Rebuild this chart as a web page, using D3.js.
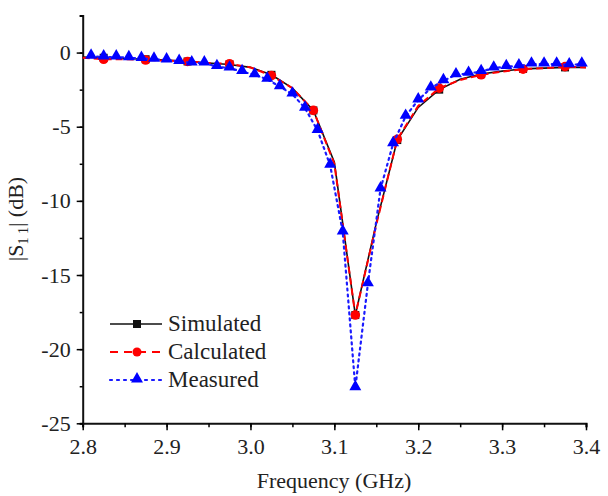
<!DOCTYPE html>
<html>
<head>
<meta charset="utf-8">
<script src="https://cdn.jsdelivr.net/npm/d3@7"></script>
<style>
  body { margin: 0; background: #fff; }
</style>
</head>
<body>
<svg id="chart" width="608" height="496"></svg>
<script>
// ---------- data ----------
var simFreq = [2.8, 2.825, 2.85, 2.875, 2.9, 2.925, 2.95, 2.975, 3.0, 3.025, 3.05, 3.075, 3.1,
               3.125, 3.15, 3.175, 3.2, 3.225, 3.25, 3.275, 3.3, 3.325, 3.35, 3.375, 3.4]
var simS11 = [-0.3, -0.35, -0.4, -0.45, -0.5, -0.6, -0.7, -0.8, -1.0, -1.5, -2.4, -3.9, -7.4,
              -17.7, -11.5, -5.9, -3.7, -2.5, -1.8, -1.45, -1.25, -1.1, -1.05, -1.0, -1.0]

// calculated curve is drawn through every 0.025 GHz, markers every 0.05 GHz
var calcFreq = [2.8, 2.825, 2.85, 2.875, 2.9, 2.925, 2.95, 2.975, 3.0, 3.025, 3.05, 3.075, 3.1,
                3.125, 3.15, 3.175, 3.2, 3.225, 3.25, 3.275, 3.3, 3.325, 3.35, 3.375, 3.4]
var calcS11 = [-0.35, -0.45, -0.45, -0.5, -0.55, -0.6, -0.7, -0.75, -1.0, -1.55, -2.4, -3.9, -7.5,
               -17.7, -11.6, -5.85, -3.6, -2.4, -1.85, -1.5, -1.28, -1.12, -1.05, -0.95, -1.0]
var calcMarkFreq = [2.825, 2.875, 2.925, 2.975, 3.025, 3.075, 3.125, 3.175, 3.225, 3.275, 3.325, 3.375]

var measFreq = [2.81, 2.825, 2.84, 2.855, 2.87, 2.885, 2.9, 2.915, 2.93, 2.945,
                2.96, 2.975, 2.99, 3.005, 3.02, 3.035, 3.05, 3.065, 3.08, 3.095,
                3.11, 3.125, 3.14, 3.155, 3.17, 3.185, 3.2, 3.215, 3.23, 3.245,
                3.26, 3.275, 3.29, 3.305, 3.32, 3.335, 3.35, 3.365, 3.38, 3.395]
var measS11 = [-0.25, -0.3, -0.3, -0.35, -0.4, -0.45, -0.5, -0.6, -0.7, -0.7,
               -0.95, -1.05, -1.28, -1.5, -1.8, -2.3, -2.8, -3.75, -5.25, -7.6,
               -12.1, -22.6, -15.6, -9.2, -6.15, -4.3, -3.2, -2.4, -1.9, -1.5,
               -1.4, -1.28, -1.05, -0.95, -0.9, -0.78, -0.78, -0.78, -0.83, -0.78]

var xTicks = [2.8, 2.9, 3.0, 3.1, 3.2, 3.3, 3.4]
var yTicks = [0, -5, -10, -15, -20, -25]
var legendNames = ["Simulated", "Calculated", "Measured"]

// ---------- setup ----------
var svg = d3.select("#chart")
var x = d3.scaleLinear().domain([2.8, 3.4]).range([82.7, 586])
var y = d3.scaleLinear().domain([-25, 2.5]).range([423.3, 15.5])
var FONT = "'Liberation Serif'"

function pts(fs, vs) {
    return fs.map(function(f, i) { return [f, vs[i]] })
}
function near(a, b) { return Math.abs(a - b) < 1e-6 }
function serif(sel, size) {
    return sel.attr("font-family", "Liberation Serif").style("font-family", FONT)
        .style("font-size", size + "px").attr("fill", "#222")
}
var line = d3.line().x(d => x(d[0])).y(d => y(d[1]))

// ---------- axes ----------
var xAxis = svg.append("g").attr("transform", "translate(0," + y(-25) + ")")
xAxis.call(d3.axisBottom(x).tickValues(d3.range(2.8, 3.401, 0.05)).tickSize(4).tickFormat(""))
xAxis.selectAll(".tick line").attr("stroke-width", 1.5)
xAxis.select(".domain").attr("stroke-width", 2).attr("stroke", "#111")
var xMajor = svg.append("g").attr("transform", "translate(0," + y(-25) + ")")
    .call(d3.axisBottom(x).tickValues(xTicks).tickSize(7).tickFormat(d3.format(".1f")))
xMajor.attr("font-family", "Liberation Serif")
xMajor.select(".domain").remove()
xMajor.selectAll(".tick line").attr("stroke-width", 1.5)
serif(xMajor.selectAll(".tick text").attr("y", 15), 22)

var yAxis = svg.append("g").attr("transform", "translate(" + x(2.8) + ",0)")
yAxis.call(d3.axisLeft(y).tickValues(d3.range(-25, 2.6, 2.5)).tickSize(3).tickFormat(""))
yAxis.select(".domain").attr("stroke-width", 2).attr("stroke", "#111")
yAxis.selectAll(".tick line").attr("stroke-width", 1.5)
var yMajor = svg.append("g").attr("transform", "translate(" + x(2.8) + ",0)")
    .call(d3.axisLeft(y).tickValues(yTicks).tickSize(6).tickFormat(d3.format("d")))
yMajor.attr("font-family", "Liberation Serif")
yMajor.select(".domain").remove()
yMajor.selectAll(".tick line").attr("stroke-width", 1.5)
serif(yMajor.selectAll(".tick text").attr("x", -12), 22)
    .text(d => d == 0 ? "0" : "-" + Math.abs(d))

// axis titles
serif(svg.append("text").attr("x", 334).attr("y", 488).attr("text-anchor", "middle"), 22)
    .text("Frequency (GHz)")
var yt = serif(svg.append("text").attr("transform", "translate(23,219) rotate(-90)")
    .attr("text-anchor", "middle"), 22)
yt.append("tspan").text("|S")
yt.append("tspan").style("font-size", "14px").attr("dy", 5).text("1 1")
yt.append("tspan").attr("dy", -5).text("| (dB)")

// ---------- series ----------
var simData = pts(simFreq, simS11)
var calcData = pts(calcFreq, calcS11)
var measData = pts(measFreq, measS11)

svg.append("path").datum(simData).attr("d", line)
    .attr("fill", "none").attr("stroke", "#111").attr("stroke-width", 1.6)
// black square markers sit under the red ones
svg.selectAll(".simMark").data(simData.filter(d => calcMarkFreq.some(f => near(f, d[0]))))
    .enter().append("rect").attr("class", "simMark")
    .attr("x", d => x(d[0]) - 4).attr("y", d => y(d[1]) - 4)
    .attr("width", 8).attr("height", 8).attr("fill", "#111")

svg.append("path").datum(calcData).attr("d", line)
    .attr("fill", "none").attr("stroke", "#f00").attr("stroke-width", 2)
    .attr("stroke-dasharray", "7,4")
svg.selectAll(".calcMark").data(calcData.filter(d => calcMarkFreq.some(f => near(f, d[0]))))
    .enter().append("circle")
    .attr("class", "calcMark")
    .attr("cx", d => x(d[0])).attr("cy", d => y(d[1])).attr("r", 4.8).attr("fill", "#f00")

svg.append("path").datum(measData).attr("d", line)
    .attr("fill", "none").attr("stroke", "#1a1aff").attr("stroke-width", 2.2)
    .attr("stroke-dasharray", "2,4").attr("stroke-linecap", "round")
var tri = d3.symbol().type(d3.symbolTriangle).size(62)
svg.selectAll(".measMark").data(measData).enter().append("path")
    .attr("class", "measMark")
    .attr("d", tri)
    .attr("transform", d => "translate(" + x(d[0]) + "," + (y(d[1]) - 1) + ")")
    .attr("fill", "#0000ff")

// ---------- legend ----------
var legY = [324, 352, 380]
var lg = svg.append("g")
legendNames.forEach(function(name, i) {
    var yy = legY[i]
    var ln = lg.append("line").attr("x1", 110).attr("x2", 162).attr("y1", yy).attr("y2", yy)
    if (i == 0) {
        ln.attr("stroke", "#111").attr("stroke-width", 1.6)
        lg.append("rect").attr("x", 133).attr("y", yy - 4).attr("width", 8).attr("height", 8).attr("fill", "#111")
    } else if (i == 1) {
        ln.attr("stroke", "#f00").attr("stroke-width", 2).attr("stroke-dasharray", "8,6")
        lg.append("circle").attr("cx", 137).attr("cy", yy).attr("r", 4.5).attr("fill", "#f00")
    } else {
        ln.attr("stroke", "#1a1aff").attr("stroke-width", 2.2).attr("stroke-dasharray", "2,5")
            .attr("stroke-linecap", "round")
        lg.append("path").attr("d", tri).attr("transform", "translate(137," + (yy - 1) + ")").attr("fill", "#0000ff")
    }
    serif(lg.append("text").attr("x", 168).attr("y", yy + 7), 23).text(name)
})
</script>
</body>
</html>
